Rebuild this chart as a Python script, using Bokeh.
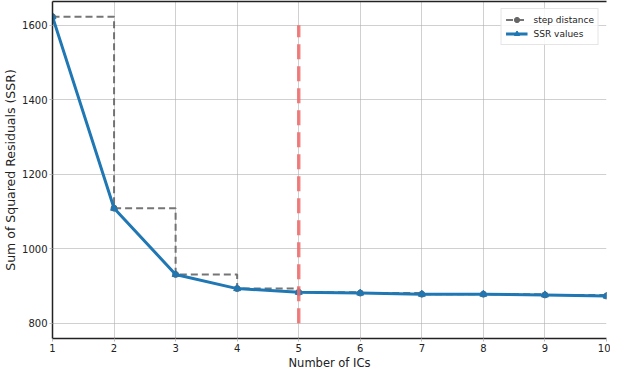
from bokeh.plotting import figure
from bokeh.models import Range1d, Legend, LegendItem, LinearAxis, FixedTicker
from bokeh.embed import file_html
from bokeh.resources import INLINE

n_ics = [1, 2, 3, 4, 5, 6, 7, 8, 9, 10]
ssr = [1623, 1109, 931, 893, 883, 881, 878, 878, 876, 873]
elbow_x = [5, 5]
elbow_y = [800, 1600]
x_ticks = [1, 2, 3, 4, 5, 6, 7, 8, 9, 10]
y_ticks = [800, 1000, 1200, 1400, 1600]

FONT = "DejaVu Sans"

p = figure(width=610, height=372, output_backend="svg", toolbar_location=None,
           x_range=Range1d(1, 10), y_range=Range1d(759, 1664),
           min_border_left=42, min_border_right=4, min_border_top=1, min_border_bottom=28)
p.outline_line_color = None
p.background_fill_color = "white"

for g in (p.xgrid, p.ygrid):
    g.grid_line_color = "#b0b0b0"
    g.grid_line_alpha = 0.6
    g.grid_line_width = 1

p.xaxis.ticker = FixedTicker(ticks=x_ticks)
p.yaxis.ticker = FixedTicker(ticks=y_ticks)
for ax in (p.xaxis[0], p.yaxis[0]):
    ax.axis_line_color = "#222222"
    ax.axis_line_width = 1.5
    ax.major_tick_in = 0
    ax.major_tick_out = 3
    ax.major_tick_line_color = "#bbbbbb"
    ax.minor_tick_line_color = None
    ax.major_label_text_font = FONT
    ax.major_label_text_font_size = "10px"
    ax.major_label_text_color = "#222222"
    ax.axis_label_text_font = FONT
    ax.axis_label_text_font_style = "normal"
    ax.axis_label_text_color = "#222222"
    ax.major_label_standoff = 2
    ax.axis_label_standoff = 1
p.xaxis.axis_label = "Number of ICs"
p.xaxis.axis_label_text_font_size = "11.5px"
p.yaxis.axis_label = "Sum of Squared Residuals (SSR)"
p.yaxis.axis_label_text_font_size = "12.5px"

top = LinearAxis(ticker=FixedTicker(ticks=[]), major_label_text_font_size="0px",
                 major_tick_out=0, major_tick_in=0, minor_tick_out=0, minor_tick_in=0,
                 axis_line_color="#222222", axis_line_width=1.5)
p.add_layout(top, "above")

step_r = p.step(n_ics, ssr, mode="after", line_color="#666666", line_width=2,
                line_dash="7 4", line_alpha=0.9)
stepm_r = p.scatter(n_ics, ssr, marker="circle", size=6, color="#666666")

line_r = p.line(n_ics, ssr, line_color="#1f77b4", line_width=3)
tri_r = p.scatter(n_ics, ssr, marker="triangle", size=7, color="#1f77b4")

p.line(elbow_x, elbow_y, line_color="#f06a6a", line_alpha=0.85, line_width=3.5,
       line_dash="15 7")

legend = Legend(items=[
    LegendItem(label="step distance", renderers=[step_r, stepm_r]),
    LegendItem(label="SSR values", renderers=[line_r, tri_r]),
], location="top_right")
legend.label_text_font = FONT
legend.label_text_font_size = "9px"
legend.label_text_color = "#222222"
legend.glyph_width = 22
legend.glyph_height = 13
legend.label_height = 13
legend.label_standoff = 6
legend.spacing = 1
legend.padding = 4
legend.margin = 7
legend.border_line_color = "#cccccc"
legend.border_line_width = 1
legend.background_fill_alpha = 0.85
p.add_layout(legend)

open("out.html", "w").write(file_html(p, INLINE))
